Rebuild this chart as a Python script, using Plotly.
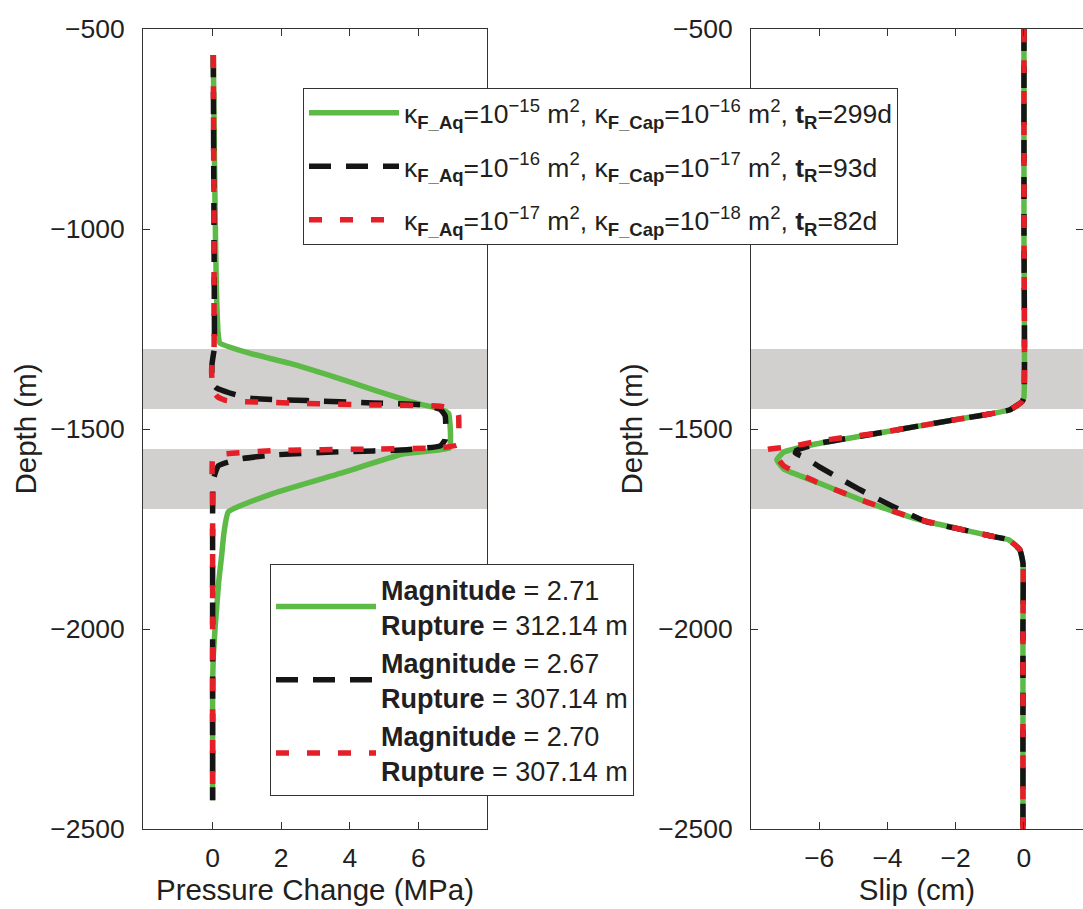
import plotly.graph_objects as go
from plotly.subplots import make_subplots

# ---------------- data ----------------
# Pressure change (MPa) vs depth (m)
depth_p_green = [-565, -800, -1000, -1150, -1260, -1285, -1311, -1336, -1369, -1402, -1436, -1450, -1461,
                 -1500, -1535, -1548, -1562, -1611, -1661, -1707, -1760, -1819, -1880, -1944, -2000, -2069,
                 -2136, -2250, -2428]
p_green = [0.02, 0.05, 0.08, 0.11, 0.16, 0.21, 1.09, 2.26, 3.52, 4.69, 5.96, 6.64, 6.88,
           6.93, 6.93, 6.90, 5.57, 3.72, 1.77, 0.46, 0.33, 0.26, 0.18, 0.12, 0.07, 0.02,
           0.0, 0.0, 0.0]

depth_p_black = [-565, -800, -1000, -1200, -1300, -1315, -1340, -1370, -1390, -1398, -1410, -1423, -1429,
                 -1435, -1440, -1451, -1467, -1500, -1527, -1542, -1552, -1557, -1565, -1575, -1592,
                 -1627, -1800, -2000, -2200, -2428]
p_black = [0.02, 0.03, 0.04, 0.05, 0.05, 0.02, -0.02, -0.02, 0.02, 0.12, 0.5, 1.09, 2.74,
           4.69, 6.15, 6.64, 6.78, 6.80, 6.78, 6.64, 5.66, 3.72, 1.77, 0.80, 0.17,
           0.02, 0.0, 0.0, 0.0, 0.0]

depth_p_red = [-565, -800, -1000, -1200, -1300, -1320, -1350, -1380, -1402, -1420, -1429, -1435, -1440,
               -1443, -1454, -1465, -1500, -1525, -1540, -1547, -1550, -1554, -1565, -1575, -1700,
               -2000, -2200, -2428]
p_red = [0.02, 0.03, 0.04, 0.04, 0.04, 0.0, -0.03, -0.02, 0.0, 0.15, 0.41, 2.26, 4.69,
         6.64, 7.12, 7.17, 7.18, 7.17, 7.12, 6.64, 4.69, 1.77, 0.12, 0.0, 0.0,
         0.0, 0.0, 0.0]

# Slip (cm) vs depth (m)
depth_s_green = [-500, -1000, -1420, -1431, -1452, -1479, -1508, -1537, -1558, -1577, -1600, -1633,
                 -1683, -1725, -1754, -1767, -1777, -1802, -1835, -2000, -2500]
s_green = [0.0, 0.0, 0.0, -0.05, -0.41, -2.17, -4.12, -6.07, -7.04, -7.24, -7.04, -6.07,
           -4.60, -3.14, -1.68, -1.0, -0.45, -0.12, -0.03, -0.03, -0.03]

depth_s_black = [-500, -1000, -1420, -1431, -1452, -1479, -1508, -1537, -1553, -1560, -1570, -1596,
                 -1652, -1694, -1732, -1754, -1767, -1777, -1802, -1835, -2000, -2500]
s_black = [0.0, 0.0, 0.0, -0.05, -0.41, -2.17, -4.12, -6.07, -6.66, -6.70, -6.45, -5.97,
           -4.80, -3.83, -2.85, -1.68, -1.0, -0.45, -0.12, -0.03, -0.03, -0.03]

depth_s_red = [-500, -1000, -1420, -1431, -1452, -1479, -1508, -1530, -1545, -1552, -1565, -1592,
               -1633, -1683, -1725, -1754, -1767, -1777, -1802, -1835, -2000, -2500]
s_red = [0.0, 0.0, 0.0, -0.05, -0.41, -2.17, -4.12, -6.00, -6.90, -7.53, -7.30, -7.04,
         -6.07, -4.60, -3.14, -1.68, -1.0, -0.45, -0.12, -0.03, -0.03, -0.03]

# shaded layers (depth ranges)
band_tops = [-1300, -1550]
band_bottoms = [-1450, -1700]

legend1_labels = [
    "κ<sub><b>F_Aq</b></sub>=10<sup>−15</sup> m<sup>2</sup>, κ<sub><b>F_Cap</b></sub>=10<sup>−16</sup> m<sup>2</sup>, <b>t</b><sub><b>R</b></sub>=299d",
    "κ<sub><b>F_Aq</b></sub>=10<sup>−16</sup> m<sup>2</sup>, κ<sub><b>F_Cap</b></sub>=10<sup>−17</sup> m<sup>2</sup>, <b>t</b><sub><b>R</b></sub>=93d",
    "κ<sub><b>F_Aq</b></sub>=10<sup>−17</sup> m<sup>2</sup>, κ<sub><b>F_Cap</b></sub>=10<sup>−18</sup> m<sup>2</sup>, <b>t</b><sub><b>R</b></sub>=82d",
]
magnitudes = ["2.71", "2.67", "2.70"]
ruptures = ["312.14", "307.14", "307.14"]

# ---------------- style ----------------
GREEN = "#5dba47"
BLACK = "#151515"
RED = "#e51f28"
FONT = "Liberation Sans, Arial, Helvetica, sans-serif"
TXT = "#231f20"

styles = [
    dict(color=GREEN, width=5.5, dash="solid"),
    dict(color=BLACK, width=5.5, dash="22px,15px"),
    dict(color=RED, width=5.5, dash="13px,18px"),
]

fig = make_subplots(rows=1, cols=2)

p_series = [(p_green, depth_p_green), (p_black, depth_p_black), (p_red, depth_p_red)]
s_series = [(s_green, depth_s_green), (s_black, depth_s_black), (s_red, depth_s_red)]

for i, (x, y) in enumerate(p_series):
    fig.add_trace(go.Scatter(x=x, y=y, mode="lines", line=dict(**styles[i], shape="spline", smoothing=0.4),
                             name=legend1_labels[i], legend="legend", legendgroup=f"a{i}"),
                  row=1, col=1)

for i, (x, y) in enumerate(s_series):
    fig.add_trace(go.Scatter(x=x, y=y, mode="lines", line=dict(**styles[i], shape="spline", smoothing=0.4),
                             name=f"<b>Magnitude</b> = {magnitudes[i]}<br><b>Rupture</b> = {ruptures[i]} m",
                             legend="legend2", legendgroup=f"b{i}"),
                  row=1, col=2)

for t, b in zip(band_tops, band_bottoms):
    for xr, yr in (("x domain", "y"), ("x2 domain", "y2")):
        fig.add_shape(type="rect", xref=xr, yref=yr, x0=0, x1=1, y0=b, y1=t,
                      fillcolor="#d2d0cf", line=dict(width=0), layer="below")

axis_common = dict(showline=True, linecolor="#333333", linewidth=1, mirror="ticks",
                   ticks="inside", ticklen=7, tickcolor="#333333", showgrid=False, zeroline=False,
                   tickfont=dict(family=FONT, size=26.5, color=TXT),
                   title_font=dict(family=FONT, size=29.5, color=TXT))

fig.update_xaxes(**axis_common)
fig.update_yaxes(**axis_common)

fig.update_layout(
    xaxis=dict(domain=[143 / 1083, 487 / 1083], range=[-2.03, 8.0], tickvals=[0, 2, 4, 6],
               title_text="Pressure Change (MPa)", title_standoff=4, ticklabelstandoff=5),
    xaxis2=dict(domain=[751 / 1083, 1.0], range=[-8.0, 1.73], tickvals=[-6, -4, -2, 0],
                title_text="Slip (cm)", title_standoff=4, ticklabelstandoff=5),
    yaxis=dict(range=[-2500, -500], tickvals=[-2500, -2000, -1500, -1000, -500],
               title_text="Depth (m)", ticklabelstandoff=12, title_standoff=4),
    yaxis2=dict(range=[-2500, -500], tickvals=[-2500, -2000, -1500, -1000, -500],
                title_text="Depth (m)", ticklabelstandoff=12, title_standoff=6),
    width=1083, height=909,
    margin=dict(l=0, r=0, t=29, b=80),
    paper_bgcolor="white", plot_bgcolor="white",
    font=dict(family=FONT, color=TXT),
    showlegend=True,
    legend=dict(x=303 / 1083, y=(829 - 88) / 800, xanchor="left", yanchor="top",
                bgcolor="white", bordercolor="#333333", borderwidth=1,
                font=dict(family=FONT, size=26.5, color=TXT), itemwidth=90, tracegroupgap=16),
    legend2=dict(x=270 / 1083, y=(829 - 564) / 800, xanchor="left", yanchor="top",
                 bgcolor="white", bordercolor="#333333", borderwidth=1,
                 font=dict(family=FONT, size=27, color=TXT), itemwidth=100, tracegroupgap=0),
)

fig.write_html("out.html")
